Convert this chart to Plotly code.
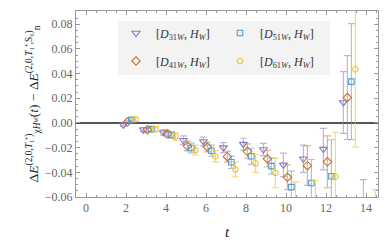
import plotly.graph_objects as go

# ---------------- data ----------------
t_base = [2, 3, 4, 5, 6, 7, 8, 9, 10, 11, 12, 13, 14]

d31_val = [-0.0015, -0.0055, -0.0077, -0.0140, -0.0150, -0.0200, -0.0172, -0.0215, -0.0340, -0.0290, -0.0212, 0.0166, -0.0720]
d31_err = [0.0010, 0.0018, 0.0022, 0.0035, 0.0035, 0.0040, 0.0048, 0.0050, 0.0095, 0.0110, 0.0168, 0.0250, 0.0260]

d41_val = [0.0007, -0.0055, -0.0088, -0.0187, -0.0195, -0.0273, -0.0230, -0.0290, -0.0440, -0.0346, -0.0315, 0.0206, None]
d41_err = [0.0010, 0.0018, 0.0025, 0.0040, 0.0040, 0.0045, 0.0060, 0.0067, 0.0100, 0.0160, 0.0210, 0.0340, None]

d51_val = [0.0025, -0.0050, -0.0098, -0.0203, -0.0225, -0.0319, -0.0270, -0.0350, -0.0520, -0.0486, -0.0432, 0.0335, None]
d51_err = [0.0015, 0.0020, 0.0025, 0.0040, 0.0045, 0.0050, 0.0065, 0.0065, 0.0130, 0.0190, 0.0296, 0.0470, None]

d61_val = [0.0030, -0.0050, -0.0110, -0.0220, -0.0270, -0.0376, -0.0327, -0.0405, -0.0660, -0.0640, -0.0435, 0.0435, -0.0800]
d61_err = [0.0015, 0.0020, 0.0030, 0.0040, 0.0045, 0.0060, 0.0073, 0.0120, 0.0180, 0.0175, 0.0360, 0.0630, 0.0260]

series_names = ["[<i>D</i><sub>31<i>W</i></sub>, <i>H</i><sub><i>W</i></sub>]",
                "[<i>D</i><sub>41<i>W</i></sub>, <i>H</i><sub><i>W</i></sub>]",
                "[<i>D</i><sub>51<i>W</i></sub>, <i>H</i><sub><i>W</i></sub>]",
                "[<i>D</i><sub>61<i>W</i></sub>, <i>H</i><sub><i>W</i></sub>]"]

x_ticks = [0, 2, 4, 6, 8, 10, 12, 14]
y_ticks = [-0.06, -0.04, -0.02, 0.00, 0.02, 0.04, 0.06, 0.08]

# ---------------- style ----------------
FONT = "Liberation Serif"
offsets = [-0.13, 0.07, 0.27, 0.47]
colors = ["rgb(135,120,195)", "rgb(200,115,50)", "rgb(80,155,205)", "rgb(248,192,30)"]
err_colors = ["rgba(135,120,195,0.55)", "rgba(200,115,50,0.55)", "rgba(80,155,205,0.55)", "rgba(248,192,30,0.6)"]
symbols = ["triangle-down-open", "diamond-open", "square-open", "circle-open"]
sizes = [7, 6.5, 5.5, 5.5]
legend_ids = ["legend", "legend2", "legend3", "legend4"]

vals = [d31_val, d41_val, d51_val, d61_val]
errs = [d31_err, d41_err, d51_err, d61_err]

fig = go.Figure()
for i in range(4):
    xs = [t + offsets[i] for t in t_base]
    fig.add_trace(go.Scatter(
        x=xs, y=vals[i], mode="markers", name=series_names[i],
        marker=dict(symbol=symbols[i], size=sizes[i], color=colors[i],
                    line=dict(width=1.1, color=colors[i])),
        error_y=dict(type="data", array=errs[i], visible=True,
                     color=err_colors[i], thickness=1.2, width=3.5),
        legend=legend_ids[i], showlegend=True, cliponaxis=True,
    ))

# the page has an 8px body margin; measured page positions = layout + 8
OFF = 8
W, H = 390, 248
ml, mt = 68, 3
pw, ph = 302, 186
mr, mb = W - ml - pw, H - mt - ph

def px_x(p):
    return (p - OFF - ml) / pw

def px_y(p):
    return (H - mb - (p - OFF)) / ph

leg_common = dict(bgcolor="rgba(0,0,0,0)", borderwidth=0,
                  font=dict(family=FONT, size=12, color="#333"),
                  xanchor="left", yanchor="middle", orientation="v",
                  itemwidth=30)

fig.update_layout(
    width=W, height=H,
    margin=dict(l=ml, r=mr, t=mt, b=mb, autoexpand=False),
    paper_bgcolor="white", plot_bgcolor="white",
    font=dict(family=FONT, size=12, color="#555"),
    legend=dict(leg_common, x=px_x(116), y=px_y(33)),
    legend2=dict(leg_common, x=px_x(116), y=px_y(61)),
    legend3=dict(leg_common, x=px_x(220), y=px_y(33)),
    legend4=dict(leg_common, x=px_x(220), y=px_y(61)),
    shapes=[dict(type="rect", xref="paper", yref="paper",
                 x0=px_x(118), x1=px_x(330), y0=px_y(75), y1=px_y(21),
                 fillcolor="#f3f3f3", line=dict(width=0), layer="below")],
    xaxis=dict(
        range=[-0.5, 14.6], tickvals=x_ticks, ticktext=[str(v) for v in x_ticks],
        automargin=False,
        ticks="inside", ticklen=4, tickcolor="#999", showline=True, linecolor="#999",
        linewidth=1, mirror="allticks", showgrid=False, zeroline=False,
        minor=dict(dtick=0.5, ticks="inside", ticklen=2, tickcolor="#999", showgrid=False),
        tickfont=dict(family=FONT, size=12, color="#666"),
        title=dict(text="<i>t</i>", font=dict(family=FONT, size=15, color="#222"), standoff=12),
    ),
    yaxis=dict(
        range=[-0.06, 0.0907], tickvals=y_ticks,
        ticktext=[("\u2212%.2f" % -v) if v < 0 else "%.2f" % v for v in y_ticks],
        automargin=False,
        ticks="inside", ticklen=4, tickcolor="#999", showline=True, linecolor="#999",
        linewidth=1, mirror="allticks", showgrid=False,
        zeroline=True, zerolinecolor="#555", zerolinewidth=1.5,
        minor=dict(dtick=0.005, ticks="inside", ticklen=2, tickcolor="#999", showgrid=False),
        tickfont=dict(family=FONT, size=12, color="#666"),
        title=dict(text="\u0394<i>E</i><sup>(2,0,<i>T</i>\u2081\u207a)</sup><sub>\u03c7<i>H</i>\u1d42</sub>(<i>t</i>) \u2212 \u0394<i>E</i><sup>(2,0,<i>T</i>\u2081\u207a,S\u2080)</sup><sub>n</sub>",
                   font=dict(family=FONT, size=13.5, color="#222"), standoff=3),
    ),
)

fig.write_html("out.html")
